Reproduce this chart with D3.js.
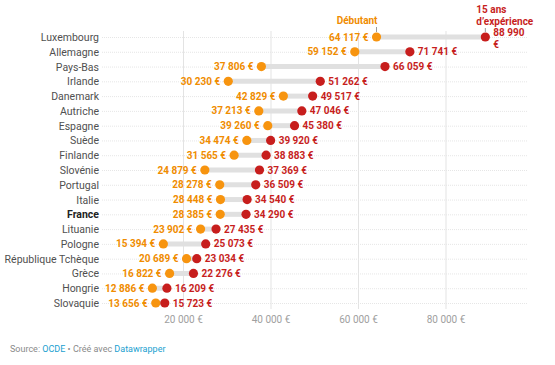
<!DOCTYPE html>
<html>
<head>
<meta charset="utf-8">
<script src="https://cdn.jsdelivr.net/npm/d3@7"></script>
<style>
  body { margin: 0; background: #fff; font-family: Roboto, "Noto Sans", sans-serif; }
</style>
</head>
<body>
<div id="chart"></div>
<script>
(function () {

  // Data (salaires annuels, débutant vs 15 ans d'expérience)
  const countries = ["Luxembourg", "Allemagne", "Pays-Bas", "Irlande", "Danemark", "Autriche", "Espagne",
    "Suède", "Finlande", "Slovénie", "Portugal", "Italie", "France", "Lituanie", "Pologne",
    "République Tchèque", "Grèce", "Hongrie", "Slovaquie"]
  const debutant = [64117, 59152, 37806, 30230, 42829, 37213, 39260, 34474, 31565, 24879,
    28278, 28448, 28385, 23902, 15394, 20689, 16822, 12886, 13656]
  const experience = [88990, 71741, 66059, 51262, 49517, 47046, 45380, 39920, 38883, 37369,
    36509, 34540, 34290, 27435, 25073, 23034, 22276, 16209, 15723]
  const ticks = [20000, 40000, 60000, 80000]
  const highlight = "France"

  const width = 555, height = 365
  const orange = "#f7940f", red = "#c71e1d"

  const fr = d3.formatLocale({ decimal: ",", thousands: "\u00a0", grouping: [3], currency: ["", " €"] })
  const fmt = v => fr.format(",")(v) + "\u00a0€"

  const data = countries.map((c, i) => ({ country: c, a: debutant[i], b: experience[i] }))

  const svg = d3.select("#chart").append("svg")
    .attr("width", width)
    .attr("height", height)

  const x = d3.scaleLinear().domain([0, 100000]).range([96, 533.5])
  const y = d3.scalePoint().domain(countries).range([37, 303])

  // vertical grid
  svg.append("g").selectAll("line")
    .data(ticks)
    .join("line")
    .attr("x1", d => x(d)).attr("x2", d => x(d))
    .attr("y1", 31).attr("y2", 309)
    .attr("stroke", "#e3e3e3")
    .attr("stroke-width", 1)

  svg.append("g").selectAll("text")
    .data(ticks)
    .join("text")
    .attr("x", d => x(d))
    .attr("y", 323)
    .attr("text-anchor", "middle")
    .attr("font-size", 10)
    .attr("fill", "#a0a0a0")
    .text(fmt)

  // row dotted lines
  svg.append("g").selectAll("line")
    .data(data)
    .join("line")
    .attr("x1", 102).attr("x2", 528)
    .attr("y1", d => y(d.country) + 0.5).attr("y2", d => y(d.country) + 0.5)
    .attr("stroke", "#e6e6e6")
    .attr("stroke-dasharray", "1,1")

  // country labels
  svg.append("g").selectAll("text")
    .data(data)
    .join("text")
    .attr("x", 99)
    .attr("y", d => y(d.country) + 4)
    .attr("text-anchor", "end")
    .attr("font-size", 10.5)
    .attr("font-weight", d => d.country === highlight ? 700 : 400)
    .attr("fill", d => d.country === highlight ? "#222" : "#505050")
    .text(d => d.country)

  // range bars
  svg.append("g").selectAll("line")
    .data(data)
    .join("line")
    .attr("x1", d => x(d.a)).attr("x2", d => x(d.b))
    .attr("y1", d => y(d.country)).attr("y2", d => y(d.country))
    .attr("stroke", "#e0e0e0")
    .attr("stroke-width", 5)

  // dots
  svg.append("g").selectAll("circle")
    .data(data)
    .join("circle")
    .attr("cx", d => x(d.a)).attr("cy", d => y(d.country))
    .attr("r", 4.6)
    .attr("fill", orange)

  svg.append("g").selectAll("circle")
    .data(data)
    .join("circle")
    .attr("cx", d => x(d.b)).attr("cy", d => y(d.country))
    .attr("r", 4.6)
    .attr("fill", red)

  // value labels
  svg.append("g").selectAll("text")
    .data(data)
    .join("text")
    .attr("x", d => x(d.a) - 8)
    .attr("y", d => y(d.country) + 3.6)
    .attr("text-anchor", "end")
    .attr("font-size", 10)
    .attr("font-weight", 700)
    .attr("fill", "#f08c00")
    .text(d => fmt(d.a))

  const redLabels = svg.append("g").selectAll("text")
    .data(data)
    .join("text")
    .attr("x", d => x(d.b) + 8)
    .attr("y", d => y(d.country) + 3.6)
    .attr("font-size", 10)
    .attr("font-weight", 700)
    .attr("fill", red)

  // the top label wraps in the original
  redLabels.each(function (d, i) {
    const t = d3.select(this)
    if (i === 0) {
      const parts = fmt(d.b).split("\u00a0€")
      t.attr("y", y(d.country) - 1)
      t.append("tspan").text(parts[0])
      t.append("tspan").attr("x", x(d.b) + 8).attr("dy", 12).text("€")
    } else {
      t.text(fmt(d.b))
    }
  })

  // series annotations
  const top = data[0]
  svg.append("text")
    .attr("x", x(top.a) + 1)
    .attr("y", 24)
    .attr("text-anchor", "end")
    .attr("font-size", 10)
    .attr("font-weight", 700)
    .attr("fill", "#f08c00")
    .text("Débutant")
  svg.append("line")
    .attr("x1", x(top.a)).attr("x2", x(top.a))
    .attr("y1", 27).attr("y2", 32)
    .attr("stroke", "#999")

  const ann = svg.append("text")
    .attr("x", x(top.b) - 9)
    .attr("y", 13)
    .attr("font-size", 10)
    .attr("font-weight", 700)
    .attr("fill", red)
  ann.append("tspan").text("15 ans")
  ann.append("tspan").attr("x", x(top.b) - 9).attr("dy", 12).text("d’expérience")
  svg.append("line")
    .attr("x1", x(top.b)).attr("x2", x(top.b))
    .attr("y1", 28).attr("y2", 32)
    .attr("stroke", "#999")

  // footer
  const src = svg.append("text")
    .attr("x", 10)
    .attr("y", 352)
    .attr("font-size", 9)
    .attr("fill", "#8a8a8a")
  src.append("tspan").text("Source: ")
  src.append("tspan").attr("fill", "#1a9fd0").text("OCDE")
  src.append("tspan").text(" • Créé avec ")
  src.append("tspan").attr("fill", "#1a9fd0").text("Datawrapper")

})();
</script>
</body>
</html>
